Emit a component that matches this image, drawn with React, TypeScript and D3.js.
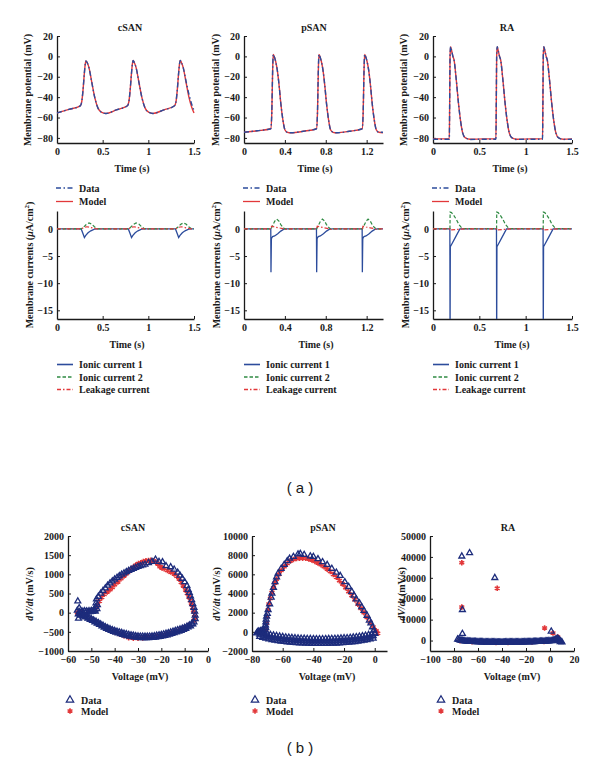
import { useEffect, useRef } from 'react';
import * as d3 from 'd3';

type Pt = [number, number];

// ---------- (a) membrane potential, [time (s), mV]
const csanApModel: Pt[] = [
  [0, -55.5], [0.13, -52], [0.255, -48.5], [0.27, -45], [0.285, -33], [0.3, -16], [0.31, -7], [0.317, -4.5],
  [0.33, -6], [0.35, -11], [0.38, -25], [0.415, -41], [0.45, -51], [0.49, -55], [0.535, -56], [0.65, -52.5],
  [0.771, -48.5], [0.786, -45], [0.801, -33], [0.816, -16], [0.826, -7], [0.833, -4], [0.846, -6], [0.866, -11],
  [0.896, -25], [0.931, -41], [0.966, -51], [1.006, -55], [1.051, -56], [1.17, -52.5], [1.287, -48.5], [1.302, -45],
  [1.317, -33], [1.332, -16], [1.342, -7], [1.349, -4], [1.362, -6], [1.382, -11], [1.412, -25], [1.447, -41],
  [1.475, -50], [1.5, -55.5],
];
const csanApData: Pt[] = [
  [0, -55.5], [0.13, -52], [0.255, -48.5], [0.27, -45], [0.285, -33], [0.3, -16], [0.31, -7], [0.317, -4.5],
  [0.33, -6], [0.35, -11], [0.38, -25], [0.415, -41], [0.45, -51], [0.49, -55], [0.535, -56], [0.65, -52.5],
  [0.771, -48.5], [0.786, -45], [0.801, -33], [0.816, -16], [0.826, -7], [0.833, -4], [0.846, -6], [0.866, -11],
  [0.896, -25], [0.931, -41], [0.966, -51], [1.006, -55], [1.051, -56], [1.17, -52.5], [1.287, -48.5], [1.302, -45],
  [1.317, -33], [1.332, -16], [1.342, -7], [1.349, -4], [1.362, -6], [1.382, -11], [1.412, -24], [1.447, -38],
  [1.475, -47], [1.5, -53],
];
const psanApModel: Pt[] = [
  [0, -74.5], [0.13, -73], [0.262, -71], [0.272, -55], [0.28, -15], [0.286, 2], [0.296, 0], [0.31, -5],
  [0.325, -13], [0.345, -30], [0.36, -46], [0.38, -62], [0.4, -72], [0.425, -74.5], [0.46, -75], [0.58, -73.5],
  [0.709, -71], [0.719, -55], [0.727, -15], [0.733, 2], [0.743, 0], [0.757, -5], [0.772, -13], [0.792, -30],
  [0.807, -46], [0.827, -62], [0.847, -72], [0.872, -74.5], [0.907, -75], [1.03, -73.5], [1.156, -71], [1.166, -55],
  [1.174, -15], [1.18, 2], [1.19, 0], [1.204, -5], [1.219, -13], [1.239, -30], [1.254, -46], [1.274, -62],
  [1.294, -72], [1.319, -74.5], [1.36, -75],
];
const psanApData: Pt[] = [
  [0, -74.5], [0.13, -73], [0.262, -71], [0.272, -55], [0.28, -15], [0.286, 2], [0.296, 0], [0.31, -5],
  [0.325, -13], [0.345, -30], [0.36, -46], [0.38, -62], [0.4, -72], [0.425, -74.5], [0.46, -75], [0.58, -73.5],
  [0.709, -71], [0.719, -55], [0.727, -15], [0.733, 2], [0.743, 0], [0.757, -5], [0.772, -13], [0.792, -30],
  [0.807, -46], [0.827, -62], [0.847, -72], [0.872, -74.5], [0.907, -75], [1.03, -73.5], [1.156, -71], [1.166, -55],
  [1.174, -15], [1.18, 2], [1.19, 0], [1.204, -5], [1.219, -13], [1.239, -30], [1.254, -46], [1.274, -62],
  [1.294, -72], [1.319, -74.5], [1.36, -74.5],
];
const raApModel: Pt[] = [
  [0, -81], [0.176, -81], [0.18, -45], [0.184, 0], [0.19, 9.5], [0.2, 6], [0.215, 0], [0.228, -4], [0.25, -22],
  [0.275, -46], [0.3, -65], [0.32, -75], [0.35, -80], [0.4, -81.3], [0.55, -81], [0.679, -81], [0.683, -45],
  [0.687, 0], [0.693, 9.5], [0.703, 6], [0.718, 0], [0.731, -4], [0.753, -22], [0.778, -46], [0.803, -65],
  [0.823, -75], [0.853, -80], [0.903, -81.3], [1.05, -81], [1.182, -81], [1.186, -45], [1.19, 0], [1.196, 9.5],
  [1.206, 6], [1.221, 0], [1.234, -4], [1.256, -22], [1.281, -46], [1.306, -65], [1.326, -75], [1.356, -80],
  [1.406, -81.3], [1.5, -81],
];
const raApData: Pt[] = [
  [0, -81.3], [0.176, -81.3], [0.18, -45], [0.184, 0], [0.19, 9.5], [0.2, 6], [0.215, 0], [0.228, -4], [0.25, -22],
  [0.275, -46], [0.3, -65], [0.32, -75], [0.35, -80], [0.4, -81.5], [0.55, -81.3], [0.679, -81.3], [0.683, -45],
  [0.687, 0], [0.693, 9.5], [0.703, 6], [0.718, 0], [0.731, -4], [0.753, -22], [0.778, -46], [0.803, -65],
  [0.823, -75], [0.853, -80], [0.903, -81.5], [1.05, -81.3], [1.182, -81.3], [1.186, -45], [1.19, 0], [1.196, 9.5],
  [1.206, 6], [1.221, 0], [1.234, -4], [1.256, -22], [1.281, -46], [1.306, -65], [1.326, -75], [1.356, -80],
  [1.406, -81.5], [1.5, -81.3],
];

// ---------- (a) membrane currents, [time (s), uA/cm2]
const csanI1: Pt[] = [
  [0, 0], [0.265, 0], [0.285, -0.9], [0.3, -1.6], [0.315, -1.2], [0.34, -0.7], [0.37, -0.35], [0.41, -0.05], [0.45, 0],
  [0.781, 0], [0.801, -0.9], [0.816, -1.6], [0.831, -1.2], [0.856, -0.7], [0.886, -0.35], [0.926, -0.05], [0.966, 0],
  [1.297, 0], [1.317, -0.9], [1.332, -1.6], [1.347, -1.2], [1.372, -0.7], [1.402, -0.35], [1.442, -0.05], [1.482, 0], [1.5, 0],
];
const csanI2: Pt[] = [
  [0, 0], [0.265, 0], [0.29, 0.3], [0.32, 0.8], [0.35, 1.1], [0.38, 0.9], [0.41, 0.4], [0.44, 0.05], [0.47, 0],
  [0.781, 0], [0.806, 0.3], [0.836, 0.8], [0.866, 1.1], [0.896, 0.9], [0.926, 0.4], [0.956, 0.05], [0.986, 0],
  [1.297, 0], [1.322, 0.3], [1.352, 0.8], [1.382, 1.1], [1.412, 0.9], [1.442, 0.4], [1.472, 0.05], [1.5, 0],
];
const csanLeak: Pt[] = [
  [0, 0], [0.265, 0], [0.3, 0.3], [0.33, 0.4], [0.37, 0.25], [0.42, 0.05], [0.46, 0],
  [0.781, 0], [0.816, 0.3], [0.846, 0.4], [0.886, 0.25], [0.936, 0.05], [0.976, 0],
  [1.297, 0], [1.332, 0.3], [1.362, 0.4], [1.402, 0.25], [1.452, 0.05], [1.492, 0], [1.5, 0],
];
const psanI1: Pt[] = [
  [0, 0], [0.262, 0], [0.264, -8], [0.268, -1.8], [0.28, -1.4], [0.3, -1.3], [0.33, -0.9], [0.36, -0.4], [0.39, -0.05], [0.42, 0],
  [0.709, 0], [0.711, -8], [0.715, -1.8], [0.727, -1.4], [0.747, -1.3], [0.777, -0.9], [0.807, -0.4], [0.837, -0.05], [0.867, 0],
  [1.156, 0], [1.158, -8], [1.162, -1.8], [1.174, -1.4], [1.194, -1.3], [1.224, -0.9], [1.254, -0.4], [1.284, -0.05], [1.314, 0], [1.36, 0],
];
const psanI2: Pt[] = [
  [0, 0], [0.264, 0], [0.28, 0.6], [0.3, 1.4], [0.32, 1.8], [0.34, 1.5], [0.36, 0.8], [0.385, 0.2], [0.4, 0],
  [0.711, 0], [0.727, 0.6], [0.747, 1.4], [0.767, 1.8], [0.787, 1.5], [0.807, 0.8], [0.832, 0.2], [0.847, 0],
  [1.158, 0], [1.174, 0.6], [1.194, 1.4], [1.214, 1.8], [1.234, 1.5], [1.254, 0.8], [1.279, 0.2], [1.294, 0], [1.36, 0],
];
const psanLeak: Pt[] = [
  [0, 0], [0.264, 0], [0.27, 0.5], [0.3, 0.35], [0.34, 0.2], [0.38, 0.05], [0.4, -0.1], [0.43, 0],
  [0.711, 0], [0.717, 0.5], [0.747, 0.35], [0.787, 0.2], [0.827, 0.05], [0.847, -0.1], [0.877, 0],
  [1.158, 0], [1.164, 0.5], [1.194, 0.35], [1.234, 0.2], [1.274, 0.05], [1.294, -0.1], [1.324, 0], [1.36, 0],
];
const raI1: Pt[] = [
  [0, 0], [0.182, 0], [0.184, -20], [0.187, -3.3], [0.24, -1.6], [0.29, 0],
  [0.685, 0], [0.687, -20], [0.69, -3.3], [0.743, -1.6], [0.793, 0],
  [1.188, 0], [1.19, -20], [1.193, -3.3], [1.246, -1.6], [1.296, 0], [1.5, 0],
];
const raI2: Pt[] = [
  [0, 0.05], [0.183, 0.05], [0.185, 3.1], [0.2, 3.0], [0.22, 2.6], [0.25, 1.8], [0.28, 0.8], [0.31, 0.2], [0.33, 0.05],
  [0.686, 0.05], [0.688, 3.1], [0.703, 3.0], [0.723, 2.6], [0.753, 1.8], [0.783, 0.8], [0.813, 0.2], [0.833, 0.05],
  [1.189, 0.05], [1.191, 3.1], [1.206, 3.0], [1.226, 2.6], [1.256, 1.8], [1.286, 0.8], [1.316, 0.2], [1.336, 0.05], [1.5, 0.05],
];
const raLeak: Pt[] = [
  [0, 0], [0.183, 0], [0.186, -0.2], [0.25, -0.1], [0.35, 0],
  [0.686, 0], [0.689, -0.2], [0.753, -0.1], [0.853, 0],
  [1.189, 0], [1.192, -0.2], [1.256, -0.1], [1.356, 0], [1.5, 0],
];

// ---------- (b) phase plots, [V (mV), dV/dt (mV/s)]
const csanPhaseData: Pt[] = [
  [-55.8, 300], [-55.5, -150], [-56, 60], [-55.6, -40], [-55.2, 120], [-55, 20], [-54.6, -60], [-54, 40],
  [-53.5, 0], [-53, 45], [-52.5, 10], [-52, 40], [-51.5, 15], [-51, 45], [-50.5, 20], [-50, 50], [-49.5, 25],
  [-49, 55], [-48.5, 70], [-48.2, 150], [-48, 250], [-47.8, 350], [-48.3, 30], [-47.6, 100], [-47.4, 200],
  [-47, 420], [-46, 500], [-45, 570], [-44, 640], [-43, 710], [-42, 770], [-41, 820], [-40, 870], [-39, 915],
  [-38, 955], [-37, 995], [-36, 1030], [-35, 1065], [-34, 1095], [-33, 1125], [-32, 1150], [-31, 1175],
  [-30, 1200], [-29, 1220], [-28, 1240], [-27, 1260], [-25.5, 1300], [-24, 1330], [-22.5, 1390], [-21, 1330],
  [-19.5, 1320], [-18, 1220], [-16, 1190], [-14.5, 1130], [-13, 1050], [-12, 970], [-11, 890], [-10, 800],
  [-9, 700], [-8.5, 600], [-8, 520], [-7.5, 430], [-7, 330], [-6.5, 230], [-6, 130], [-5.7, 30], [-5.5, -70],
  [-5.5, -160], [-6, -250], [-7, -290], [-8, -330], [-9, -360], [-10, -390], [-11, -410], [-12, -430],
  [-13, -450], [-14, -470], [-15, -490], [-16, -510], [-17, -530], [-18, -545], [-19, -560], [-20, -575],
  [-21, -585], [-22, -595], [-23, -605], [-24, -612], [-25, -618], [-26, -620], [-27, -622], [-28, -620],
  [-29, -618], [-30, -612], [-31, -605], [-32, -595], [-33, -585], [-34, -572], [-35, -558], [-36, -542],
  [-37, -525], [-38, -508], [-39, -490], [-40, -470], [-41, -450], [-42, -425], [-43, -400], [-44, -370],
  [-45, -335], [-46, -300], [-47, -265], [-48, -230], [-49, -195], [-50, -165], [-51, -135], [-52, -105],
  [-53, -80], [-54, -55], [-55, -30],
  [-6.5, -300], [-7.5, -350], [-8.5, -380], [-9.5, -420], [-10.5, -440], [-11.5, -470], [-12.5, -490],
  [-13.5, -510], [-14.5, -530], [-15.5, -550], [-16.5, -570], [-17.5, -585], [-18.5, -600], [-19.5, -615],
  [-20.5, -625], [-21.5, -635], [-22.5, -645], [-23.5, -650], [-24.5, -655], [-25.5, -660], [-26.5, -660],
  [-27.5, -660], [-28.5, -658], [-29.5, -655], [-30.5, -648], [-31.5, -640], [-32.5, -630], [-33.5, -618],
  [-34.5, -605], [-35.5, -590], [-36.5, -572], [-37.5, -555], [-38.5, -535], [-39.5, -515], [-40.5, -495],
  [-41.5, -470], [-42.5, -445], [-43.5, -415], [-44.5, -385], [-45.5, -350], [-46.5, -315], [-47.5, -280],
  [-48.5, -245], [-49.5, -210], [-50.5, -180], [-51.5, -150], [-52.5, -120], [-53.5, -95], [-54.5, -70],
];
const csanPhaseModel: Pt[] = [
  [-56, 0], [-54, 30], [-51, 40], [-48.5, 60], [-47.5, 180], [-46.5, 300], [-45.5, 400], [-44.5, 480],
  [-43.2, 540], [-42, 600], [-41, 660], [-40, 730], [-38.6, 800], [-37.3, 890], [-36, 960], [-35, 1020],
  [-34, 1080], [-33, 1130], [-32, 1180], [-30.9, 1240], [-29.8, 1280], [-28.8, 1300], [-27.7, 1330],
  [-26.6, 1350], [-25.5, 1360], [-24.5, 1365], [-23.4, 1350], [-22.4, 1320], [-21.5, 1270], [-20.6, 1200],
  [-19.7, 1170], [-18.8, 1150], [-17.4, 1100], [-16, 1060], [-14.5, 1010], [-13.4, 950], [-12.4, 880],
  [-11.5, 790], [-10.6, 700], [-9.6, 590], [-8.9, 500], [-8.2, 410], [-7.6, 320], [-7.1, 230], [-6.6, 140],
  [-6.2, 50], [-5.8, -40], [-5.6, -120], [-6, -210], [-8, -320], [-10, -390], [-12, -450], [-14, -500],
  [-16, -540], [-18, -575], [-20, -600], [-22, -615], [-24, -630], [-26, -640], [-28, -660], [-30, -668],
  [-32, -665], [-34, -650], [-36, -600], [-38, -550], [-40, -500], [-42, -440], [-44, -380], [-46, -320],
  [-48, -250], [-50, -180], [-52, -120], [-54, -60],
];
const psanPhaseData: Pt[] = [
  [-77, -150], [-76.5, -50], [-75.5, 50], [-74.5, 100], [-73.5, 130], [-72.5, 160], [-71.5, 200], [-71, 400],
  [-71.2, 700], [-71, 1000], [-70.8, 1300], [-72, 0], [-71.5, 600], [-70.5, 1600], [-70, 1900], [-69.5, 2300],
  [-68.5, 2900], [-67.5, 3600], [-67, 4000], [-66, 4600], [-65, 5200], [-64, 5700], [-63, 6100], [-61, 6600],
  [-59, 7000], [-57, 7400], [-55.5, 7650], [-53, 7850], [-50, 8100], [-48.5, 8150], [-46, 8050], [-42, 7900],
  [-40, 7850], [-37, 7600], [-34, 7300], [-31, 7000], [-28, 6600], [-25, 6200], [-22.5, 5850], [-19.5, 5200],
  [-17, 4700], [-15, 4200], [-13.5, 3800], [-12, 3400], [-10, 3000], [-8.5, 2600], [-7, 2200], [-5, 1700],
  [-3.5, 1200], [-2.5, 900], [-1.5, 500], [-0.5, 150], [0, -200],
  [0, -150], [-2, -230], [-4, -310], [-6, -370], [-8, -430], [-10, -480], [-12, -530], [-14, -570], [-16, -600],
  [-18, -630], [-20, -650], [-22, -670], [-24, -690], [-26, -705], [-28, -715], [-30, -725], [-32, -730],
  [-34, -735], [-36, -735], [-38, -735], [-40, -730], [-42, -725], [-44, -715], [-46, -700], [-48, -685],
  [-50, -665], [-52, -640], [-54, -615], [-56, -585], [-58, -550], [-60, -510], [-62, -465], [-64, -415],
  [-66, -360], [-68, -300], [-70, -230], [-72, -150], [-74, -60], [-76, 30],
  [-1, -690], [-3, -770], [-5, -840], [-7, -900], [-9, -955], [-11, -1005], [-13, -1050], [-15, -1085],
  [-17, -1115], [-19, -1140], [-21, -1160], [-23, -1180], [-25, -1197], [-27, -1210], [-29, -1220],
  [-31, -1228], [-33, -1233], [-35, -1235], [-37, -1235], [-39, -1233], [-41, -1228], [-43, -1220],
  [-45, -1208], [-47, -1193], [-49, -1175], [-51, -1153], [-53, -1128], [-55, -1100], [-57, -1068],
  [-59, -1030], [-61, -988], [-63, -940], [-65, -888], [-67, -830], [-69, -765], [-71, -690], [-73, -605],
  [-75, -515],
  [-1, -420], [-3, -540], [-5, -600], [-7, -660], [-9, -710], [-11, -760], [-13, -800], [-15, -835],
  [-17, -865], [-19, -890], [-21, -910], [-23, -930], [-25, -945], [-27, -960], [-29, -970], [-31, -975],
  [-33, -980], [-35, -985], [-37, -985], [-39, -983], [-41, -978], [-43, -970], [-45, -958], [-47, -943],
  [-49, -925], [-51, -905], [-53, -880], [-55, -850], [-57, -820], [-59, -780], [-61, -740], [-63, -690],
  [-65, -640], [-67, -580], [-69, -520], [-71, -440], [-73, -350], [-75, -260],
];
const psanPhaseModel: Pt[] = [
  [-71, 200], [-70.5, 900], [-70, 1600], [-69.5, 2300], [-69, 2900], [-68, 3500], [-67, 4100], [-66, 4600],
  [-65, 5100], [-64, 5500], [-62.5, 6000], [-61, 6400], [-59, 6800], [-57, 7150], [-55, 7400], [-53, 7550],
  [-51, 7650], [-49, 7700], [-47, 7700], [-45, 7680], [-43, 7600], [-41, 7500], [-39, 7350], [-37, 7200],
  [-35, 7000], [-33, 6800], [-31, 6550], [-29, 6300], [-27, 6000], [-25, 5700], [-23, 5350], [-21, 5000],
  [-19, 4600], [-17, 4200], [-15, 3800], [-13, 3350], [-11, 2900], [-9, 2450], [-7, 2000], [-5, 1500],
  [-3, 1000], [-1, 500], [1, 100], [2, -150],
];
const raPhaseData: Pt[] = [
  [-73.5, 40300], [-67, 41900], [-46, 30000], [-73, 14700], [-73, 3300], [1, 4400],
  [-77, 600], [-76, 400], [-75, 200], [-74, 0], [-73, -100], [-72, -180], [-71, -250], [-70, -300], [-69, -350],
  [-68, -400], [-67, -430], [-66, -470], [-65, -500], [-64, -530], [-63, -560], [-62, -590], [-61, -620],
  [-60, -645], [-59, -670], [-58, -690], [-57, -710], [-56, -730], [-55, -750], [-54, -760], [-53, -775],
  [-52, -790], [-51, -800], [-50, -810], [-49, -820], [-48, -830], [-47, -840], [-46, -845], [-45, -850],
  [-44, -852], [-43, -855], [-42, -855], [-41, -855], [-40, -855], [-39, -855], [-38, -852], [-37, -850],
  [-36, -848], [-35, -845], [-34, -840], [-33, -835], [-32, -828], [-31, -820], [-30, -812], [-29, -805],
  [-28, -798], [-27, -790], [-26, -780], [-25, -770], [-24, -758], [-23, -745], [-22, -732], [-21, -720],
  [-20, -705], [-19, -690], [-18, -675], [-17, -660], [-16, -645], [-15, -630], [-14, -610], [-13, -590],
  [-12, -570], [-11, -550], [-10, -525], [-9, -500], [-8, -475], [-7, -450], [-6, -420], [-5, -390],
  [-4, -355], [-3, -320], [-2, -280], [-1, -240], [0, -200], [1, -150], [2, -80], [3, 0],
  [4, 300], [5, 600], [6, 1000], [7, 700], [8, 200], [9, -300], [10, -800], [8.5, -600], [7, -200],
];
const raPhaseModel: Pt[] = [
  [-73.5, 37200], [-73.5, 16000], [-44, 25000], [-4.5, 6000], [2.5, 3600], [6.5, 1700],
  [-75, 0], [-65, -550], [-55, -800], [-45, -900], [-35, -880], [-25, -800], [-15, -660], [-5, -420], [5, 300],
];

const FONT = "'Liberation Serif', 'Times New Roman', serif";
const BLUE = '#2c4c9c';
const RED = '#e2383a';
const GREEN = '#2f8b43';
const NAVY = '#1d2c7c';
const INK = '#1a1a1a';

const App = () => {
  const ref = useRef<SVGSVGElement | null>(null);

  useEffect(() => {
    const svg = d3.select(ref.current);
    svg.selectAll('*').remove();
    svg.attr('font-family', FONT).attr('font-weight', 'bold').attr('fill', INK);

    const fmt = d3.format('~g');

    const drawAxes = (x: any, y: any, xTicks: number[], yTicks: number[]) => {
      const g = svg.append('g');
      g.append('g')
        .attr('transform', `translate(0,${y.range()[0]})`)
        .call(d3.axisBottom(x).tickValues(xTicks).tickFormat(fmt as any).tickSizeInner(-3).tickSizeOuter(0).tickPadding(5));
      g.append('g')
        .attr('transform', `translate(${x.range()[0]},0)`)
        .call(d3.axisLeft(y).tickValues(yTicks).tickFormat(fmt as any).tickSizeInner(-3).tickSizeOuter(0).tickPadding(4));
      g.selectAll('g').attr('font-family', FONT).attr('font-size', 10);
      g.selectAll('.domain').attr('stroke', INK).attr('stroke-width', 1.3);
      g.selectAll('.tick line').attr('stroke', INK);
      g.selectAll('.tick text').attr('fill', INK);
    };

    const label = (x: number, y: number, txt: string, rotate = false) =>
      svg.append('text')
        .attr('transform', `translate(${x},${y})${rotate ? ' rotate(-90)' : ''}`)
        .attr('text-anchor', 'middle')
        .attr('dy', '0.35em')
        .attr('font-size', 10)
        .text(txt);

    const lineGen = (x: any, y: any, curve: any) =>
      d3.line<Pt>().x(d => x(d[0])).y(d => y(d[1])).curve(curve);

    // ---------- (a)
    const apPanels = [
      { name: 'cSAN', x0: 57, x1: 194, tMax: 1.5, ticks: [0, 0.5, 1, 1.5], model: csanApModel, data: csanApData,
        i1: csanI1, i2: csanI2, leak: csanLeak, titleX: 130, xlabTop: 132, xlabBot: 127, ylabTop: 27, ylabBot: 29 },
      { name: 'pSAN', x0: 244, x1: 383, tMax: 1.36, ticks: [0, 0.4, 0.8, 1.2], model: psanApModel, data: psanApData,
        i1: psanI1, i2: psanI2, leak: psanLeak, titleX: 314, xlabTop: 315, xlabBot: 316, ylabTop: 215, ylabBot: 216 },
      { name: 'RA', x0: 433, x1: 572, tMax: 1.5, ticks: [0, 0.5, 1, 1.5], model: raApModel, data: raApData,
        i1: raI1, i2: raI2, leak: raLeak, titleX: 507, xlabTop: 510, xlabBot: 512, ylabTop: 403, ylabBot: 405 },
    ];

    apPanels.forEach((p, k) => {
      const x = d3.scaleLinear().domain([0, p.tMax]).range([p.x0, p.x1]);

      // membrane potential
      const yV = d3.scaleLinear().domain([-85, 20]).range([143, 36]);
      drawAxes(x, yV, p.ticks, [-80, -60, -40, -20, 0, 20]);
      const lv = lineGen(x, yV, d3.curveMonotoneX);
      svg.append('path').attr('d', lv(p.model)).attr('fill', 'none').attr('stroke', RED).attr('stroke-width', 1.4);
      svg.append('path').attr('d', lv(p.data)).attr('fill', 'none').attr('stroke', BLUE).attr('stroke-width', 1.4)
        .attr('stroke-dasharray', '5,2.5,1.5,2.5');
      label(p.titleX, 27, p.name);
      label(p.xlabTop, 168, 'Time (s)');
      label(p.ylabTop, 90, 'Membrane potential (mV)', true);

      const leg = [
        { t: 'Data', c: BLUE, dash: '5,2.5,1.5,2.5' },
        { t: 'Model', c: RED, dash: null },
      ];
      leg.forEach((l, i) => {
        const ly = 188 + i * 13.5;
        svg.append('line').attr('x1', p.x0 - 1).attr('x2', p.x0 + 16).attr('y1', ly).attr('y2', ly)
          .attr('stroke', l.c).attr('stroke-width', 1.3).attr('stroke-dasharray', l.dash);
        svg.append('text').attr('x', p.x0 + 22).attr('y', ly).attr('dy', '0.35em').attr('font-size', 10).text(l.t);
      });

      // membrane currents
      const yI = d3.scaleLinear().domain([-16.6, 3.3]).range([319, 211]);
      drawAxes(x, yI, p.ticks, [-15, -10, -5, 0]);
      const clipId = `clip-cur-${k}`;
      svg.append('clipPath').attr('id', clipId).append('rect')
        .attr('x', p.x0).attr('y', 208).attr('width', p.x1 - p.x0 + 2).attr('height', 319 - 208);
      const li = lineGen(x, yI, d3.curveLinear);
      const cg = svg.append('g').attr('clip-path', `url(#${clipId})`);
      cg.append('path').attr('d', li(p.i1)).attr('fill', 'none').attr('stroke', BLUE).attr('stroke-width', 1.3);
      cg.append('path').attr('d', li(p.i2)).attr('fill', 'none').attr('stroke', GREEN).attr('stroke-width', 1.2)
        .attr('stroke-dasharray', '3.5,2');
      cg.append('path').attr('d', li(p.leak)).attr('fill', 'none').attr('stroke', RED).attr('stroke-width', 1.2)
        .attr('stroke-dasharray', '4,2,1.5,2');
      label(p.xlabBot, 344, 'Time (s)');
      const yl = svg.append('text')
        .attr('transform', `translate(${p.ylabBot},265) rotate(-90)`)
        .attr('text-anchor', 'middle').attr('dy', '0.35em').attr('font-size', 10);
      yl.append('tspan').text('Membrane currents (');
      yl.append('tspan').attr('font-style', 'italic').text('μ');
      yl.append('tspan').text('A/cm');
      yl.append('tspan').attr('dy', -4).attr('font-size', 7).text('2');
      yl.append('tspan').attr('dy', 4).text(')');

      const leg2 = [
        { t: 'Ionic current 1', c: BLUE, dash: null, w: 1.6 },
        { t: 'Ionic current 2', c: GREEN, dash: '3.5,2', w: 1.3 },
        { t: 'Leakage current', c: RED, dash: '4,2,1.5,2', w: 1.3 },
      ];
      leg2.forEach((l, i) => {
        const ly = 364.5 + i * 12.5;
        svg.append('line').attr('x1', p.x0).attr('x2', p.x0 + 16).attr('y1', ly).attr('y2', ly)
          .attr('stroke', l.c).attr('stroke-width', l.w).attr('stroke-dasharray', l.dash);
        svg.append('text').attr('x', p.x0 + 22).attr('y', ly).attr('dy', '0.35em').attr('font-size', 10).text(l.t);
      });
    });

    svg.append('text').attr('x', 300).attr('y', 488).attr('dy', '0.35em').attr('text-anchor', 'middle')
      .attr('font-family', "'Liberation Sans', Arial, sans-serif").attr('font-weight', 'normal')
      .attr('font-size', 15).text('( a )');

    // ---------- (b)
    const triPath = d3.symbol().type(d3.symbolTriangle).size(15)() as string;
    const starType = (d3 as any).symbolAsterisk || d3.symbolCross;
    const starPath = d3.symbol().type(starType).size(22)() as string;

    const phasePanels = [
      { name: 'cSAN', xd: [-60, 0], xr: [68, 208], yd: [-1000, 2000],
        xt: [-60, -50, -40, -30, -20, -10, 0], yt: [-1000, -500, 0, 500, 1000, 1500, 2000],
        data: csanPhaseData, model: csanPhaseModel, titleX: 133, xlabX: 140, ylabX: 29, legX: 70 },
      { name: 'pSAN', xd: [-80, 8], xr: [252, 387], yd: [-2000, 10000],
        xt: [-80, -60, -40, -20, 0], yt: [-2000, 0, 2000, 4000, 6000, 8000, 10000],
        data: psanPhaseData, model: psanPhaseModel, titleX: 323, xlabX: 327, ylabX: 216, legX: 255 },
      { name: 'RA', xd: [-100, 20], xr: [430, 574], yd: [-5000, 50000],
        xt: [-100, -80, -60, -40, -20, 0, 20], yt: [0, 10000, 20000, 30000, 40000, 50000],
        data: raPhaseData, model: raPhaseModel, titleX: 508, xlabX: 512, ylabX: 401, legX: 441 },
    ];

    phasePanels.forEach(p => {
      const x = d3.scaleLinear().domain(p.xd).range(p.xr);
      const y = d3.scaleLinear().domain(p.yd).range([651, 536]);
      drawAxes(x, y, p.xt, p.yt);

      svg.append('g').selectAll('path').data(p.model).join('path')
        .attr('d', starPath)
        .attr('transform', d => `translate(${x(d[0])},${y(d[1])})`)
        .attr('fill', 'none').attr('stroke', RED).attr('stroke-width', 1.6);
      svg.append('g').selectAll('path').data(p.data).join('path')
        .attr('d', triPath)
        .attr('transform', d => `translate(${x(d[0])},${y(d[1])})`)
        .attr('fill', 'none').attr('stroke', NAVY).attr('stroke-width', 1.3);

      label(p.titleX, 527, p.name);
      label(p.xlabX, 676, 'Voltage (mV)');
      const yl = svg.append('text')
        .attr('transform', `translate(${p.ylabX},594) rotate(-90)`)
        .attr('text-anchor', 'middle').attr('dy', '0.35em').attr('font-size', 10);
      yl.append('tspan').attr('font-style', 'italic').text('dV/dt');
      yl.append('tspan').text(' (mV/s)');

      svg.append('path').attr('d', d3.symbol().type(d3.symbolTriangle).size(24)() as string)
        .attr('transform', `translate(${p.legX},700)`)
        .attr('fill', 'none').attr('stroke', NAVY).attr('stroke-width', 1.2);
      svg.append('text').attr('x', p.legX + 11).attr('y', 700).attr('dy', '0.35em').attr('font-size', 10).text('Data');
      svg.append('path').attr('d', starPath).attr('transform', `translate(${p.legX},711)`)
        .attr('fill', 'none').attr('stroke', RED).attr('stroke-width', 1.6);
      svg.append('text').attr('x', p.legX + 11).attr('y', 711).attr('dy', '0.35em').attr('font-size', 10).text('Model');
    });

    svg.append('text').attr('x', 300).attr('y', 748).attr('dy', '0.35em').attr('text-anchor', 'middle')
      .attr('font-family', "'Liberation Sans', Arial, sans-serif").attr('font-weight', 'normal')
      .attr('font-size', 15).text('( b )');
  }, []);

  return (
    <div style={{ position: 'absolute', left: 0, top: 0 }}>
      <svg ref={ref} width={600} height={769} style={{ display: 'block', background: '#fff' }} />
    </div>
  );
};

export default App;
